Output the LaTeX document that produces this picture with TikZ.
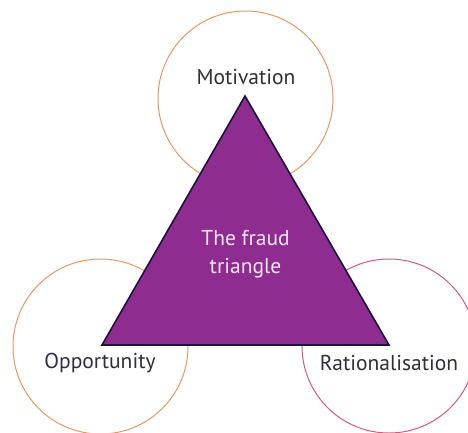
\documentclass[tikz,border=0pt]{standalone}
\usepackage{fontspec}
\setmainfont{PT Sans}
\definecolor{orangec}{HTML}{E8975E}
\definecolor{pinkc}{HTML}{D9577F}
\definecolor{purplef}{HTML}{8E2C8F}
\definecolor{outline}{HTML}{1C1240}
\definecolor{labelc}{HTML}{2E2E3E}
\definecolor{innertext}{HTML}{F6E6F4}
\begin{document}
\begin{tikzpicture}[x=1pt,y=-1pt,
  ring/.style={draw=#1, line width=1pt, fill=none},
  lbl/.style={font=\fontsize{21.5}{26}\selectfont, text=labelc, inner sep=0pt},
  inner/.style={font=\fontsize{21.5}{28}\selectfont, text=innertext, align=center, inner sep=0pt}]
\useasboundingbox (0,0) rectangle (468,432);
\begin{scope}
\clip (0,0) rectangle (468,432);
\coordinate (A) at (245,96);
\coordinate (B) at (102,345);
\coordinate (C) at (389,345);
\draw[ring=orangec] (245.5,98.5) circle (87.5);
\draw[ring=orangec] (100.5,346.5) circle (87.5);
\draw[ring=pinkc] (389,346) circle (87);
\filldraw[fill=purplef, draw=outline, line width=1.6pt, line join=miter] (A) -- (B) -- (C) -- cycle;
\end{scope}
\node[lbl] (mot) at (246,77) {Motivation};
\node[lbl] (opp) at (100,363) {Opportunity};
\node[lbl] (rat) at (389,363) {Rationalisation};
\node[inner] (tri) at (245.5,254) {The fraud\\triangle};
\end{tikzpicture}
\end{document}
